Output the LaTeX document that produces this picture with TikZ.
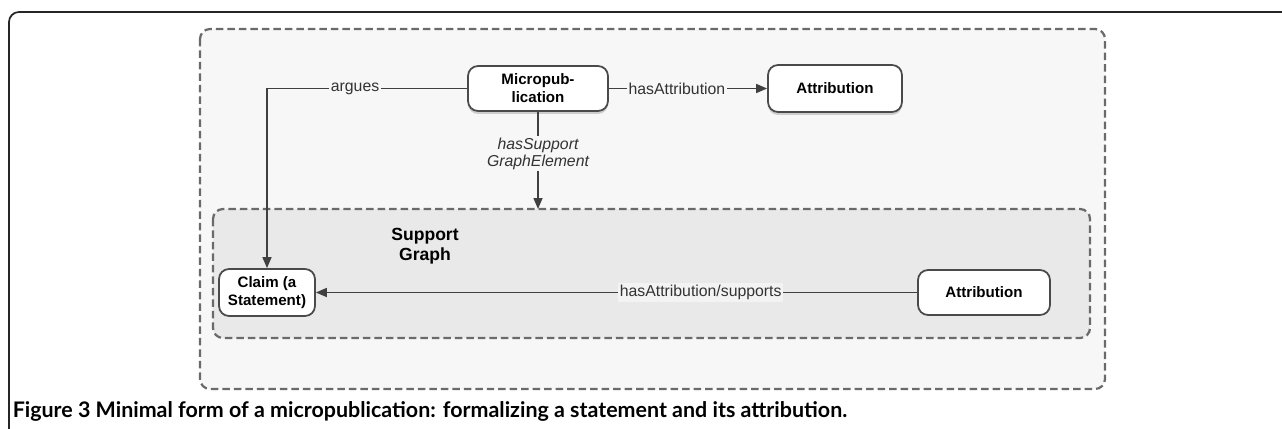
\documentclass[tikz,border=0pt]{standalone}
\usepackage{fontspec}
\setmainfont{Liberation Sans}
\newfontfamily\capfont{Lato}
\usetikzlibrary{arrows.meta,shadows}

\definecolor{outerfill}{HTML}{F7F7F7}
\definecolor{innerfill}{HTML}{E9E9E9}
\definecolor{labelfill}{HTML}{F3F3F3}
\definecolor{dashgray}{HTML}{6A6A6A}
\definecolor{boxline}{HTML}{4A4A4A}
\def\boxfont{\fontsize{8.6}{10.2}\selectfont\bfseries}

\begin{document}
\begin{tikzpicture}[x=0.02cm,y=-0.02cm,>={Triangle[length=0.22cm,width=0.18cm]},line width=0.03cm,draw=black!75]
    \tikzstyle{group}=[draw=dashgray,dash pattern=on 0.15cm off 0.08cm,line width=0.045cm,rounded corners=0.2cm]
    \tikzstyle{entity}=[draw=boxline,fill=white,rounded corners=0.2cm,line width=0.035cm,align=center,font=\boxfont,inner sep=0pt]
    \tikzstyle{shadowed}=[drop shadow={opacity=0.35,shadow xshift=0cm,shadow yshift=-0.06cm}]
    \tikzstyle{rel}=[font=\fontsize{9}{9.7}\selectfont,text=black!80,fill=outerfill,inner sep=1pt,align=center]

    \useasboundingbox (0,0) rectangle (1282,429);

    % Figure frame
    \draw[line width=0.035cm,black!85,rounded corners=0.2cm] (1282,12) -| (9,429);

    % Draw the two dashed groups
    \draw[group,fill=outerfill] (200,29) rectangle (1105,389);
    \draw[group,fill=innerfill] (213,209) rectangle (1090,338);
    \coordinate (SG-top) at (538,209);

    % Draw the entity nodes
    \node[entity,shadowed,minimum width=2.8cm,minimum height=0.9cm] (MP) at (538,88.5) {Micropub-\\lication};
    \node[entity,shadowed,minimum width=2.68cm,minimum height=0.94cm] (A-1) at (835,88.5) {Attribution};
    \node[entity,minimum width=1.92cm,minimum height=0.94cm] (C-1) at (267,292.5) {Claim (a\\Statement)};
    \node[entity,minimum width=2.64cm,minimum height=0.9cm] (A-2) at (984,292.5) {Attribution};
    \node[font=\fontsize{10}{11.5}\selectfont\bfseries,align=center] (SG) at (425,246) {Support\\Graph};

    % Connect the micropublication with the other nodes
    \draw[->] (MP) -- node[rel,pos=0.43] {hasAttribution} (A-1);
    \draw[->] (MP.west) -| node[rel,pos=0.28] {argues} (C-1.north);
    \draw[->] (MP.south) -- node[rel,pos=0.43,font=\fontsize{9}{9.7}\selectfont\itshape] {hasSupport\\GraphElement} (SG-top);

    % Connect the attribution with the claim
    \draw[->] (A-2) -- node[rel,pos=0.36,fill=labelfill] {hasAttribution/supports} (C-1);

    % Caption
    \node[anchor=base west,inner sep=0pt,font=\capfont\fontsize{12.2}{14}\selectfont\bfseries] (cap) at (12,417) {Figure 3 Minimal form of a micropublication: formalizing a statement and its attribution.};
\end{tikzpicture}
\end{document}
